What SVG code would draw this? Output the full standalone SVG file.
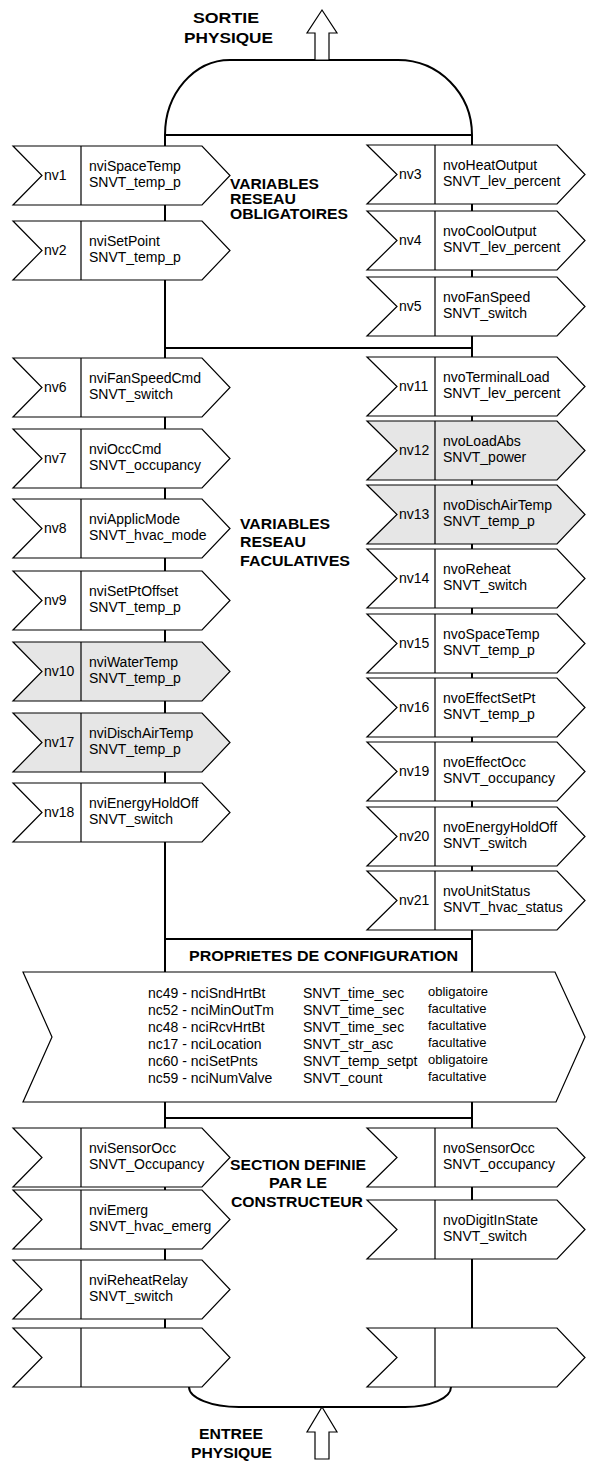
<svg xmlns="http://www.w3.org/2000/svg" xmlns:xlink="http://www.w3.org/1999/xlink" width="591" height="1461" viewBox="0 0 591 1461">
<style>
.bus{fill:none;stroke:#000;stroke-width:2}
.ol{stroke:#000;stroke-width:1.2;stroke-linejoin:miter}
.w{fill:#fff}
.g{fill:#e6e6e6}
.t{font-family:"Liberation Sans",Arial,Helvetica,sans-serif;font-size:14px;fill:#000}
.s{font-size:13px}
.l{font-size:14px}
.b{font-weight:bold}
</style>
<defs>
<path id="ln" class="ol" d="M13,0 H202 L230,29.5 L202,59 H13 L42,29.5 Z M81,0 V59"/>
<path id="rn" class="ol" d="M367,0 H557 L585,29.5 L557,59 H367 L397,29.5 Z M435,0 V59"/>
</defs>
<rect width="591" height="1461" fill="#fff"/>
<g id="connectors">
<path class="bus" d="M165,135 A65,75 0 0 1 230,60 H398 A74,75 0 0 1 472,135 Z"/>
<path class="bus" d="M165,135 V972 M165,1102 V1328 M472,135 V972 M472,1102 V1328"/>
<path class="bus" d="M165,348 H472 M165,939 H472 M165,1118 H472"/>
<path class="bus" d="M189,1387 A50,20 0 0 0 239,1407 H405 A46,20 0 0 0 451,1387"/>
</g>
<g id="sortie">
<polygon class="ol w" points="322,10 337,33 329,33 329,60 315,60 315,33 307,33"/>
<text class="t b" x="193" y="23" font-size="15" textLength="66" lengthAdjust="spacingAndGlyphs">SORTIE</text>
<text class="t b" x="184" y="43" font-size="15" textLength="89" lengthAdjust="spacingAndGlyphs">PHYSIQUE</text>
</g>
<g id="entree">
<polygon class="ol w" points="322,1407 337,1432 329,1432 329,1459 315,1459 315,1432 307,1432"/>
<text class="t b" x="199" y="1439" textLength="64" lengthAdjust="spacingAndGlyphs">ENTREE</text>
<text class="t b" x="191" y="1458" textLength="81" lengthAdjust="spacingAndGlyphs">PHYSIQUE</text>
</g>
<g id="label-obligatoires">
<text class="t l b" x="230" y="189" textLength="89" lengthAdjust="spacingAndGlyphs">VARIABLES</text>
<text class="t l b" x="230" y="204" textLength="66" lengthAdjust="spacingAndGlyphs">RESEAU</text>
<text class="t l b" x="230" y="219" textLength="118" lengthAdjust="spacingAndGlyphs">OBLIGATOIRES</text>
</g>
<g id="label-facultatives">
<text class="t l b" x="240" y="529" textLength="90" lengthAdjust="spacingAndGlyphs">VARIABLES</text>
<text class="t l b" x="240" y="547" textLength="66" lengthAdjust="spacingAndGlyphs">RESEAU</text>
<text class="t l b" x="240" y="566" textLength="110" lengthAdjust="spacingAndGlyphs">FACULATIVES</text>
</g>
<g id="label-constructeur">
<text class="t l b" x="230" y="1170" textLength="136" lengthAdjust="spacingAndGlyphs">SECTION DEFINIE</text>
<text class="t l b" x="269" y="1188" textLength="58" lengthAdjust="spacingAndGlyphs">PAR LE</text>
<text class="t l b" x="231" y="1207" textLength="132" lengthAdjust="spacingAndGlyphs">CONSTRUCTEUR</text>
</g>

<g id="nv1" transform="translate(0,146)"><use xlink:href="#ln" class="w"/><text class="t" x="44" y="34">nv1</text><text class="t" x="89" y="24.5">nviSpaceTemp</text><text class="t" x="89" y="41">SNVT_temp_p</text></g>
<g id="nv2" transform="translate(0,221)"><use xlink:href="#ln" class="w"/><text class="t" x="44" y="34">nv2</text><text class="t" x="89" y="24.5">nviSetPoint</text><text class="t" x="89" y="41">SNVT_temp_p</text></g>
<g id="nv6" transform="translate(0,358)"><use xlink:href="#ln" class="w"/><text class="t" x="44" y="34">nv6</text><text class="t" x="89" y="24.5">nviFanSpeedCmd</text><text class="t" x="89" y="41">SNVT_switch</text></g>
<g id="nv7" transform="translate(0,429)"><use xlink:href="#ln" class="w"/><text class="t" x="44" y="34">nv7</text><text class="t" x="89" y="24.5">nviOccCmd</text><text class="t" x="89" y="41">SNVT_occupancy</text></g>
<g id="nv8" transform="translate(0,499)"><use xlink:href="#ln" class="w"/><text class="t" x="44" y="34">nv8</text><text class="t" x="89" y="24.5">nviApplicMode</text><text class="t" x="89" y="41">SNVT_hvac_mode</text></g>
<g id="nv9" transform="translate(0,571)"><use xlink:href="#ln" class="w"/><text class="t" x="44" y="34">nv9</text><text class="t" x="89" y="24.5">nviSetPtOffset</text><text class="t" x="89" y="41">SNVT_temp_p</text></g>
<g id="nv10" transform="translate(0,642)"><use xlink:href="#ln" class="g"/><text class="t" x="44" y="34">nv10</text><text class="t" x="89" y="24.5">nviWaterTemp</text><text class="t" x="89" y="41">SNVT_temp_p</text></g>
<g id="nv17" transform="translate(0,713)"><use xlink:href="#ln" class="g"/><text class="t" x="44" y="34">nv17</text><text class="t" x="89" y="24.5">nviDischAirTemp</text><text class="t" x="89" y="41">SNVT_temp_p</text></g>
<g id="nv18" transform="translate(0,783)"><use xlink:href="#ln" class="w"/><text class="t" x="44" y="34">nv18</text><text class="t" x="89" y="24.5">nviEnergyHoldOff</text><text class="t" x="89" y="41">SNVT_switch</text></g>

<g id="nv3" transform="translate(0,145)"><use xlink:href="#rn" class="w"/><text class="t" x="399" y="34">nv3</text><text class="t" x="443" y="24.5">nvoHeatOutput</text><text class="t" x="443" y="41">SNVT_lev_percent</text></g>
<g id="nv4" transform="translate(0,211)"><use xlink:href="#rn" class="w"/><text class="t" x="399" y="34">nv4</text><text class="t" x="443" y="24.5">nvoCoolOutput</text><text class="t" x="443" y="41">SNVT_lev_percent</text></g>
<g id="nv5" transform="translate(0,277)"><use xlink:href="#rn" class="w"/><text class="t" x="399" y="34">nv5</text><text class="t" x="443" y="24.5">nvoFanSpeed</text><text class="t" x="443" y="41">SNVT_switch</text></g>
<g id="nv11" transform="translate(0,357)"><use xlink:href="#rn" class="w"/><text class="t" x="399" y="34">nv11</text><text class="t" x="443" y="24.5">nvoTerminalLoad</text><text class="t" x="443" y="41">SNVT_lev_percent</text></g>
<g id="nv12" transform="translate(0,421)"><use xlink:href="#rn" class="g"/><text class="t" x="399" y="34">nv12</text><text class="t" x="443" y="24.5">nvoLoadAbs</text><text class="t" x="443" y="41">SNVT_power</text></g>
<g id="nv13" transform="translate(0,485)"><use xlink:href="#rn" class="g"/><text class="t" x="399" y="34">nv13</text><text class="t" x="443" y="24.5">nvoDischAirTemp</text><text class="t" x="443" y="41">SNVT_temp_p</text></g>
<g id="nv14" transform="translate(0,549)"><use xlink:href="#rn" class="w"/><text class="t" x="399" y="34">nv14</text><text class="t" x="443" y="24.5">nvoReheat</text><text class="t" x="443" y="41">SNVT_switch</text></g>
<g id="nv15" transform="translate(0,614)"><use xlink:href="#rn" class="w"/><text class="t" x="399" y="34">nv15</text><text class="t" x="443" y="24.5">nvoSpaceTemp</text><text class="t" x="443" y="41">SNVT_temp_p</text></g>
<g id="nv16" transform="translate(0,678)"><use xlink:href="#rn" class="w"/><text class="t" x="399" y="34">nv16</text><text class="t" x="443" y="24.5">nvoEffectSetPt</text><text class="t" x="443" y="41">SNVT_temp_p</text></g>
<g id="nv19" transform="translate(0,742)"><use xlink:href="#rn" class="w"/><text class="t" x="399" y="34">nv19</text><text class="t" x="443" y="24.5">nvoEffectOcc</text><text class="t" x="443" y="41">SNVT_occupancy</text></g>
<g id="nv20" transform="translate(0,807)"><use xlink:href="#rn" class="w"/><text class="t" x="399" y="34">nv20</text><text class="t" x="443" y="24.5">nvoEnergyHoldOff</text><text class="t" x="443" y="41">SNVT_switch</text></g>
<g id="nv21" transform="translate(0,871)"><use xlink:href="#rn" class="w"/><text class="t" x="399" y="34">nv21</text><text class="t" x="443" y="24.5">nvoUnitStatus</text><text class="t" x="443" y="41">SNVT_hvac_status</text></g>

<g id="config-title">
<text class="t b" x="189" y="961" textLength="269" lengthAdjust="spacingAndGlyphs">PROPRIETES DE CONFIGURATION</text>
</g>
<g id="config">
<path class="ol w" d="M23,972 H555 L585,1037 L556,1102 H23 L52,1037 Z"/>
<text class="t" x="148" y="998">nc49 - nciSndHrtBt</text>
<text class="t" x="148" y="1015">nc52 - nciMinOutTm</text>
<text class="t" x="148" y="1032">nc48 - nciRcvHrtBt</text>
<text class="t" x="148" y="1049">nc17 - nciLocation</text>
<text class="t" x="148" y="1066">nc60 - nciSetPnts</text>
<text class="t" x="148" y="1083">nc59 - nciNumValve</text>
<text class="t" x="303" y="998">SNVT_time_sec</text>
<text class="t" x="303" y="1015">SNVT_time_sec</text>
<text class="t" x="303" y="1032">SNVT_time_sec</text>
<text class="t" x="303" y="1049">SNVT_str_asc</text>
<text class="t" x="303" y="1066">SNVT_temp_setpt</text>
<text class="t" x="303" y="1083">SNVT_count</text>
<text class="t s" x="428" y="995.5">obligatoire</text>
<text class="t s" x="428" y="1012.5">facultative</text>
<text class="t s" x="428" y="1029.5">facultative</text>
<text class="t s" x="428" y="1046.5">facultative</text>
<text class="t s" x="428" y="1063.5">obligatoire</text>
<text class="t s" x="428" y="1080.5">facultative</text>
</g>

<g id="nviSensorOcc" transform="translate(0,1128)"><use xlink:href="#ln" class="w"/><text class="t" x="89" y="24.5">nviSensorOcc</text><text class="t" x="89" y="41">SNVT_Occupancy</text></g>
<g id="nviEmerg" transform="translate(0,1190)"><use xlink:href="#ln" class="w"/><text class="t" x="89" y="24.5">nviEmerg</text><text class="t" x="89" y="41">SNVT_hvac_emerg</text></g>
<g id="nviReheatRelay" transform="translate(0,1260)"><use xlink:href="#ln" class="w"/><text class="t" x="89" y="24.5">nviReheatRelay</text><text class="t" x="89" y="41">SNVT_switch</text></g>
<g id="input-blank" transform="translate(0,1328)"><use xlink:href="#ln" class="w"/></g>
<g id="nvoSensorOcc" transform="translate(0,1128)"><use xlink:href="#rn" class="w"/><text class="t" x="443" y="24.5">nvoSensorOcc</text><text class="t" x="443" y="41">SNVT_occupancy</text></g>
<g id="nvoDigitInState" transform="translate(0,1200)"><use xlink:href="#rn" class="w"/><text class="t" x="443" y="24.5">nvoDigitInState</text><text class="t" x="443" y="41">SNVT_switch</text></g>
<g id="output-blank" transform="translate(0,1328)"><use xlink:href="#rn" class="w"/></g>
</svg>
